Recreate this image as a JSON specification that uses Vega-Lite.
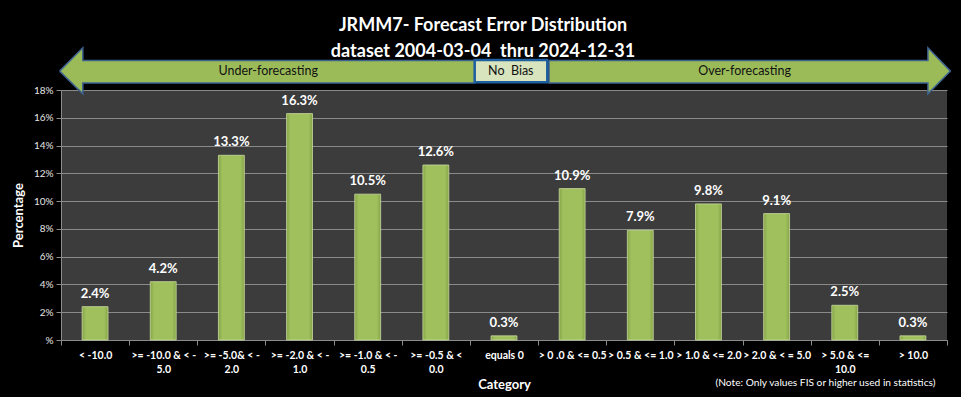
{
  "$schema": "https://vega.github.io/schema/vega-lite/v6.json",
  "width": 886,
  "height": 250,
  "autosize": {"type": "none"},
  "padding": {"left": 61, "top": 90, "right": 14, "bottom": 57},
  "background": "#000000",
  "title": {
    "text": ["JRMM7- Forecast Error Distribution", "dataset 2004-03-04\u00a0 thru 2024-12-31"],
    "color": "#FFFFFF",
    "font": "Lato",
    "fontSize": 18,
    "fontWeight": "bold",
    "lineHeight": 26,
    "anchor": "middle",
    "dx": -21,
    "offset": -16
  },
  "config": {
    "view": {"fill": "#3C3C3C", "stroke": null},
    "font": "Lato"
  },
  "datasets": {
    "bars": [
      {"category": "< -10.0", "pct": 0.024},
      {"category": ">= -10.0 & < -5.0", "pct": 0.042},
      {"category": ">= -5.0& < -2.0", "pct": 0.133},
      {"category": ">= -2.0 & < -1.0", "pct": 0.163},
      {"category": ">= -1.0 & < -0.5", "pct": 0.105},
      {"category": ">= -0.5 & < 0.0", "pct": 0.126},
      {"category": "equals 0", "pct": 0.003},
      {"category": "> 0 .0 & <= 0.5", "pct": 0.109},
      {"category": "> 0.5 & <= 1.0", "pct": 0.079},
      {"category": "> 1.0 & <= 2.0", "pct": 0.098},
      {"category": "> 2.0 & < = 5.0", "pct": 0.091},
      {"category": "> 5.0 & <= 10.0", "pct": 0.025},
      {"category": "> 10.0", "pct": 0.003}
    ],
    "arrows": [
      {"arrow": "left", "vertex": 1, "pos": -0.02, "pct": 0.1936},
      {"arrow": "left", "vertex": 2, "pos": 0.32, "pct": 0.2104},
      {"arrow": "left", "vertex": 3, "pos": 0.32, "pct": 0.2012},
      {"arrow": "left", "vertex": 4, "pos": 6.07, "pct": 0.2012},
      {"arrow": "left", "vertex": 5, "pos": 6.07, "pct": 0.185},
      {"arrow": "left", "vertex": 6, "pos": 0.32, "pct": 0.185},
      {"arrow": "left", "vertex": 7, "pos": 0.32, "pct": 0.1772},
      {"arrow": "left", "vertex": 8, "pos": -0.02, "pct": 0.1936},
      {"arrow": "right", "vertex": 1, "pos": 7.16, "pct": 0.2012},
      {"arrow": "right", "vertex": 2, "pos": 12.72, "pct": 0.2012},
      {"arrow": "right", "vertex": 3, "pos": 12.72, "pct": 0.2104},
      {"arrow": "right", "vertex": 4, "pos": 13.05, "pct": 0.1936},
      {"arrow": "right", "vertex": 5, "pos": 12.72, "pct": 0.1772},
      {"arrow": "right", "vertex": 6, "pos": 12.72, "pct": 0.185},
      {"arrow": "right", "vertex": 7, "pos": 7.16, "pct": 0.185},
      {"arrow": "right", "vertex": 8, "pos": 7.16, "pct": 0.2012}
    ],
    "box": [
      {"pos": 6.07, "pos2": 7.135, "pct": 0.2016, "pct2": 0.1855}
    ],
    "captions": [
      {"text": "Under-forecasting", "pos": 3.04, "pct": 0.1935},
      {"text": "No\u00a0\u00a0Bias", "pos": 6.6, "pct": 0.1935},
      {"text": "Over-forecasting", "pos": 10.03, "pct": 0.1935}
    ],
    "note": [
      {"text": "(Note: Only values FIS or higher used in statistics)", "pos": 12.83, "pct": -0.031}
    ]
  },
  "encoding": {
    "y": {
      "field": "pct",
      "type": "quantitative",
      "scale": {"domain": [0, 0.18], "nice": false, "zero": false},
      "axis": {
        "title": "Percentage",
        "titleColor": "#FFFFFF",
        "titleFont": "Lato",
        "titleFontSize": 13,
        "titleFontWeight": "bold",
        "titlePadding": 8,
        "values": [0, 0.02, 0.04, 0.06, 0.08, 0.1, 0.12, 0.14, 0.16, 0.18],
        "tickCount": 10,
        "labelExpr": "datum.value == 0 ? '%' : format(datum.value, '.0%')",
        "labelColor": "#E6E6E6",
        "labelFont": "Lato",
        "labelFontSize": 10,
        "labelPadding": 3,
        "labelOverlap": false,
        "tickColor": "#8C8C8C",
        "tickSize": 5,
        "domainColor": "#8C8C8C",
        "grid": true,
        "gridColor": "#8A8A8A",
        "gridWidth": 1
      }
    }
  },
  "layer": [
    {
      "data": {"name": "bars"},
      "mark": {
        "type": "bar",
        "width": {"band": 0.38},
        "color": {
          "x1": 0, "x2": 1, "y1": 0, "y2": 0,
          "gradient": "linear",
          "stops": [
            {"offset": 0, "color": "#86A447"},
            {"offset": 0.15, "color": "#A0C05E"},
            {"offset": 0.85, "color": "#A0C05E"},
            {"offset": 1, "color": "#86A447"}
          ]
        },
        "stroke": "#C9DC9E",
        "strokeWidth": 0.8
      },
      "encoding": {
        "x": {
          "field": "category",
          "type": "nominal",
          "sort": null,
          "scale": {"paddingInner": 0, "paddingOuter": 0},
          "axis": {
            "title": "Category",
            "titleColor": "#FFFFFF",
            "titleFont": "Lato",
            "titleFontSize": 13,
            "titleFontWeight": "bold",
            "titlePadding": 4,
            "labelAngle": 0,
            "labelColor": "#FFFFFF",
            "labelFont": "Lato",
            "labelFontSize": 10.5,
            "labelFontWeight": "bold",
            "labelOverlap": false,
            "labelPadding": 5,
            "labelLineHeight": 14,
            "labelExpr": "datum.label == '>= -10.0 & < -5.0' ? ['>= -10.0 & < -', '5.0'] : datum.label == '>= -5.0& < -2.0' ? ['>= -5.0& < -', '2.0'] : datum.label == '>= -2.0 & < -1.0' ? ['>= -2.0 & < -', '1.0'] : datum.label == '>= -1.0 & < -0.5' ? ['>= -1.0 & < -', '0.5'] : datum.label == '>= -0.5 & < 0.0' ? ['>= -0.5 & <', '0.0'] : datum.label == '> 5.0 & <= 10.0' ? ['> 5.0 & <=', '10.0'] : datum.label",
            "tickBand": "extent",
            "tickColor": "#8C8C8C",
            "tickSize": 5,
            "domainColor": "#8C8C8C",
            "grid": false
          }
        }
      }
    },
    {
      "data": {"name": "bars"},
      "mark": {
        "type": "text",
        "color": "#FFFFFF",
        "font": "Lato",
        "fontSize": 13,
        "fontWeight": "bold",
        "baseline": "alphabetic",
        "dy": -9
      },
      "encoding": {
        "x": {"field": "category", "type": "nominal", "sort": null, "scale": {"paddingInner": 0, "paddingOuter": 0}, "axis": null},
        "text": {"field": "pct", "type": "quantitative", "format": ".1%"}
      }
    },
    {
      "data": {"name": "arrows"},
      "mark": {
        "type": "line",
        "fill": "#9BBB59",
        "stroke": "#3F6390",
        "strokeWidth": 1.5,
        "strokeJoin": "miter",
        "clip": false
      },
      "encoding": {
        "x": {"field": "pos", "type": "quantitative", "scale": {"domain": [0, 13], "nice": false, "zero": false}, "axis": null},
        "detail": {"field": "arrow", "type": "nominal"},
        "order": {"field": "vertex", "type": "quantitative"}
      }
    },
    {
      "data": {"name": "box"},
      "mark": {"type": "rect", "fill": "#D7E4BD", "stroke": "#1F5FA0", "strokeWidth": 2.5},
      "encoding": {
        "x": {"field": "pos", "type": "quantitative", "scale": {"domain": [0, 13], "nice": false, "zero": false}, "axis": null},
        "x2": {"field": "pos2"},
        "y2": {"field": "pct2"}
      }
    },
    {
      "data": {"name": "captions"},
      "mark": {"type": "text", "color": "#111111", "font": "Lato", "fontSize": 12.5, "baseline": "middle", "align": "center"},
      "encoding": {
        "x": {"field": "pos", "type": "quantitative", "scale": {"domain": [0, 13], "nice": false, "zero": false}, "axis": null},
        "text": {"field": "text", "type": "nominal"}
      }
    },
    {
      "data": {"name": "note"},
      "mark": {"type": "text", "color": "#FFFFFF", "font": "Lato", "fontSize": 10.2, "baseline": "middle", "align": "right"},
      "encoding": {
        "x": {"field": "pos", "type": "quantitative", "scale": {"domain": [0, 13], "nice": false, "zero": false}, "axis": null},
        "text": {"field": "text", "type": "nominal"}
      }
    }
  ],
  "resolve": {"scale": {"x": "independent"}}
}
